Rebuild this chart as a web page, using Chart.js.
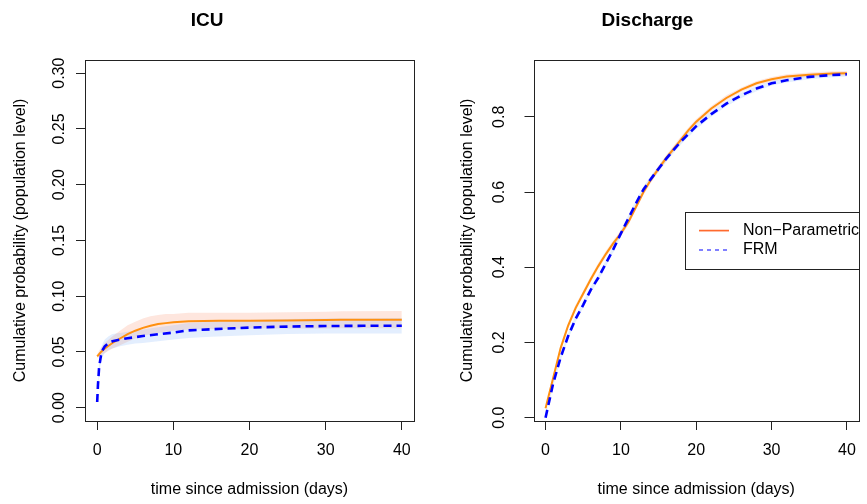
<!DOCTYPE html>
<html>
<head>
<meta charset="utf-8">
<script src="https://cdn.jsdelivr.net/npm/chart.js@4.4.1/dist/chart.umd.min.js"></script>
<style>
  html, body { margin: 0; padding: 0; background: #fff; }
  #wrap { position: relative; width: 867px; height: 504px; }
  canvas { position: absolute; left: 0; top: 0; }
</style>
</head>
<body>
<div id="wrap">
  <canvas id="icuChart" width="867" height="504"></canvas>
  <canvas id="dischargeChart" width="867" height="504"></canvas>
</div>
<script>
// ICU panel
const icuNpTime  = [0, 0.5, 1, 2, 3, 4, 5, 6, 7, 8, 9, 10, 12, 14, 16, 20, 25, 30, 32, 40];
const icuNp      = [0.046, 0.050, 0.053, 0.058, 0.062, 0.066, 0.069, 0.0715, 0.0735, 0.075, 0.0758, 0.0765, 0.0775, 0.0778, 0.0779, 0.078, 0.0782, 0.0785, 0.0788, 0.0789];
const icuNpUpper = [0.048, 0.054, 0.058, 0.064, 0.069, 0.074, 0.077, 0.080, 0.082, 0.083, 0.084, 0.084, 0.085, 0.085, 0.085, 0.085, 0.0855, 0.086, 0.0865, 0.0866];
const icuNpLower = [0.044, 0.047, 0.049, 0.053, 0.056, 0.059, 0.062, 0.064, 0.066, 0.067, 0.068, 0.069, 0.070, 0.0705, 0.0705, 0.071, 0.071, 0.071, 0.0712, 0.0712];

const icuFrmTime  = [0, 0.1, 0.25, 0.5, 0.75, 1, 1.5, 2, 3, 4, 5, 6, 8, 10, 12, 15, 20, 25, 30, 35, 40];
const icuFrm      = [0.005, 0.02, 0.036, 0.047, 0.052, 0.055, 0.058, 0.0595, 0.061, 0.0623, 0.0632, 0.0642, 0.0658, 0.0673, 0.0693, 0.0703, 0.0718, 0.0727, 0.0732, 0.0734, 0.0735];
const icuFrmUpper = [0.006, 0.023, 0.041, 0.053, 0.058, 0.061, 0.064, 0.066, 0.067, 0.068, 0.069, 0.070, 0.072, 0.074, 0.076, 0.077, 0.0785, 0.0795, 0.080, 0.080, 0.0805];
const icuFrmLower = [0.004, 0.017, 0.031, 0.041, 0.046, 0.049, 0.052, 0.053, 0.055, 0.0565, 0.0575, 0.058, 0.0595, 0.061, 0.0625, 0.0635, 0.065, 0.066, 0.0665, 0.0665, 0.0665];

// Discharge panel
const disTime     = [0, 1, 2, 3, 4, 5, 6, 7, 8, 9, 10, 11, 12, 13, 14, 15, 16, 17, 18, 19, 20, 22, 24, 26, 28, 30, 32, 35, 38, 40];
const disNp       = [0.025, 0.105, 0.185, 0.245, 0.292, 0.33, 0.368, 0.403, 0.435, 0.464, 0.49, 0.52, 0.56, 0.60, 0.633, 0.662, 0.69, 0.715, 0.74, 0.765, 0.787, 0.822, 0.85, 0.872, 0.889, 0.90, 0.907, 0.912, 0.915, 0.916];
const disNpUpper  = [0.030, 0.112, 0.193, 0.253, 0.300, 0.338, 0.376, 0.411, 0.443, 0.472, 0.498, 0.528, 0.568, 0.608, 0.641, 0.670, 0.698, 0.723, 0.748, 0.772, 0.794, 0.829, 0.857, 0.878, 0.895, 0.906, 0.913, 0.918, 0.921, 0.922];
const disNpLower  = [0.020, 0.098, 0.177, 0.237, 0.284, 0.322, 0.360, 0.395, 0.427, 0.456, 0.482, 0.512, 0.552, 0.592, 0.625, 0.654, 0.682, 0.707, 0.732, 0.758, 0.780, 0.815, 0.843, 0.866, 0.883, 0.894, 0.901, 0.906, 0.909, 0.910];
const disFrm      = [0.0, 0.09, 0.16, 0.217, 0.263, 0.30, 0.34, 0.372, 0.41, 0.448, 0.49, 0.53, 0.57, 0.607, 0.635, 0.662, 0.688, 0.712, 0.735, 0.755, 0.775, 0.807, 0.835, 0.857, 0.875, 0.889, 0.897, 0.906, 0.911, 0.913];
const disFrmUpper = [0.004, 0.097, 0.168, 0.225, 0.271, 0.308, 0.348, 0.380, 0.418, 0.456, 0.498, 0.538, 0.578, 0.615, 0.643, 0.670, 0.696, 0.720, 0.743, 0.763, 0.783, 0.814, 0.842, 0.864, 0.882, 0.895, 0.903, 0.912, 0.917, 0.919];
const disFrmLower = [0.0, 0.083, 0.152, 0.209, 0.255, 0.292, 0.332, 0.364, 0.402, 0.440, 0.482, 0.522, 0.562, 0.599, 0.627, 0.654, 0.680, 0.704, 0.727, 0.747, 0.767, 0.800, 0.828, 0.850, 0.868, 0.883, 0.891, 0.900, 0.905, 0.907];

// axes
const xTicks = [0, 10, 20, 30, 40];
const icuYTicks = [0, 0.05, 0.10, 0.15, 0.20, 0.25, 0.30];
const icuYLabels = ['0.00', '0.05', '0.10', '0.15', '0.20', '0.25', '0.30'];
const disYTicks = [0, 0.2, 0.4, 0.6, 0.8];
const disYLabels = ['0.0', '0.2', '0.4', '0.6', '0.8'];

const legendLabels = ['Non\u2212Parametric', 'FRM'];

const FONT = "'Liberation Sans', Arial, Helvetica, sans-serif";
const orangeLine = '#FF9010';
const blueLine = '#0000FF';
const orangeBand = 'rgba(250,128,90,0.20)';
const blueBand = 'rgba(100,160,250,0.18)';

function pts(t, v) {
    return t.map((x, i) => ({ x: x, y: v[i] }));
}

// box around plot region, like R's box()
const plotBox = {
    id: 'plotBox',
    afterDraw(chart) {
        const a = chart.chartArea;
        const ctx = chart.ctx;
        ctx.save();
        ctx.strokeStyle = '#222';
        ctx.lineWidth = 1;
        ctx.strokeRect(Math.round(a.left) + 0.5, Math.round(a.top) + 0.5,
            Math.round(a.right - a.left), Math.round(a.bottom - a.top));
        ctx.restore();
    }
};

// legend drawn inside the plot, at the right edge
const insetLegend = {
    id: 'insetLegend',
    afterDraw(chart, args, opts) {
        if (!opts.items) return;
        const a = chart.chartArea;
        const ctx = chart.ctx;
        const w = 174, h = 57;
        const x0 = Math.round(a.right) - w;
        const y0 = Math.round((a.top + a.bottom) / 2 - h / 2);
        ctx.save();
        ctx.fillStyle = '#fff';
        ctx.fillRect(x0, y0, w, h);
        ctx.strokeStyle = '#222';
        ctx.lineWidth = 1;
        ctx.strokeRect(x0 + 0.5, y0 + 0.5, w, h);
        opts.items.forEach((it, i) => {
            const y = y0 + 18.6 + i * 19.4;
            ctx.beginPath();
            ctx.setLineDash(it.dash || []);
            ctx.strokeStyle = it.color;
            ctx.lineWidth = 1.7;
            ctx.moveTo(x0 + 14, y);
            ctx.lineTo(x0 + 44, y);
            ctx.stroke();
            ctx.setLineDash([]);
            ctx.fillStyle = '#000';
            ctx.font = '16px ' + FONT;
            ctx.textBaseline = 'middle';
            ctx.textAlign = 'left';
            ctx.fillText(it.text, x0 + 58, y);
        });
        ctx.restore();
    }
};

function makeDatasets(npT, np, npU, npL, frmT, frm, frmU, frmL) {
    const band = { pointRadius: 0, borderWidth: 0, tension: 0 };
    return [
        Object.assign({ data: pts(npT, npU), fill: '+1', backgroundColor: orangeBand, order: 5 }, band),
        Object.assign({ data: pts(npT, npL), fill: false, order: 4 }, band),
        Object.assign({ data: pts(frmT, frmU), fill: '+1', backgroundColor: blueBand, order: 3 }, band),
        Object.assign({ data: pts(frmT, frmL), fill: false, order: 2 }, band),
        { label: legendLabels[0], data: pts(npT, np), borderColor: orangeLine, borderWidth: 2,
          pointRadius: 0, fill: false, order: 1 },
        { label: legendLabels[1], data: pts(frmT, frm), borderColor: blueLine, borderWidth: 2.6,
          borderDash: [8, 5], pointRadius: 0, fill: false, order: 0 }
    ];
}

function makeConfig(o) {
    return {
        type: 'line',
        data: { datasets: o.datasets },
        options: {
            responsive: false,
            animation: false,
            events: [],
            layout: { padding: o.padding },
            plugins: {
                legend: { display: false },
                tooltip: { enabled: false },
                title: {
                    display: true,
                    text: o.title,
                    color: '#000',
                    font: { family: FONT, size: 19, weight: 'bold' },
                    padding: { top: 9, bottom: 28 }
                },
                insetLegend: o.legend || {}
            },
            scales: {
                x: {
                    type: 'linear',
                    min: -1.6,
                    max: 41.6,
                    afterBuildTicks: s => { s.ticks = xTicks.map(v => ({ value: v })); },
                    afterFit: s => { s.height = 83; },
                    grid: { drawOnChartArea: false, drawTicks: true, tickLength: 9, color: '#222' },
                    border: { display: false },
                    ticks: {
                        color: '#000',
                        padding: 11,
                        maxRotation: 0,
                        font: { family: FONT, size: 16 },
                        callback: v => String(v)
                    },
                    title: {
                        display: true,
                        text: 'time since admission (days)',
                        color: '#000',
                        font: { family: FONT, size: 16 },
                        padding: { top: 0, bottom: 5 }
                    }
                },
                y: {
                    type: 'linear',
                    min: o.yMin,
                    max: o.yMax,
                    afterBuildTicks: s => { s.ticks = o.yTicks.map(v => ({ value: v })); },
                    afterFit: s => { s.width = o.yWidth; },
                    grid: { drawOnChartArea: false, drawTicks: true, tickLength: 9, color: '#222' },
                    border: { display: false },
                    ticks: {
                        color: '#000',
                        minRotation: 90,
                        maxRotation: 90,
                        crossAlign: 'center',
                        padding: o.yTickPad,
                        font: { family: FONT, size: 16 },
                        callback: (v, i) => o.yLabels[i]
                    },
                    title: {
                        display: true,
                        text: 'Cumulative probability (population level)',
                        color: '#000',
                        font: { family: FONT, size: 16 },
                        padding: { top: o.yTitlePad, bottom: 0 }
                    }
                }
            }
        },
        plugins: [plotBox, insetLegend]
    };
}

const icuChart = new Chart(document.getElementById('icuChart').getContext('2d'), makeConfig({
    title: 'ICU',
    datasets: makeDatasets(icuNpTime, icuNp, icuNpUpper, icuNpLower, icuFrmTime, icuFrm, icuFrmUpper, icuFrmLower),
    padding: { left: 0, right: 453, top: 0, bottom: 0 },
    yMin: -0.012, yMax: 0.312,
    yTicks: icuYTicks, yLabels: icuYLabels,
    yWidth: 85, yTickPad: 0.5, yTitlePad: 11.4
}));

const dischargeChart = new Chart(document.getElementById('dischargeChart').getContext('2d'), makeConfig({
    title: 'Discharge',
    datasets: makeDatasets(disTime, disNp, disNpUpper, disNpLower, disTime, disFrm, disFrmUpper, disFrmLower),
    padding: { left: 433, right: 5, top: 0, bottom: 0 },
    yMin: -0.0088, yMax: 0.9515,
    yTicks: disYTicks, yLabels: disYLabels,
    yWidth: 100.5, yTickPad: 14, yTitlePad: 25,
    legend: {
        items: [
            { text: legendLabels[0], color: '#FF6A2E' },
            { text: legendLabels[1], color: '#6B6BFF', dash: [4, 4] }
        ]
    }
}));
</script>
</body>
</html>
